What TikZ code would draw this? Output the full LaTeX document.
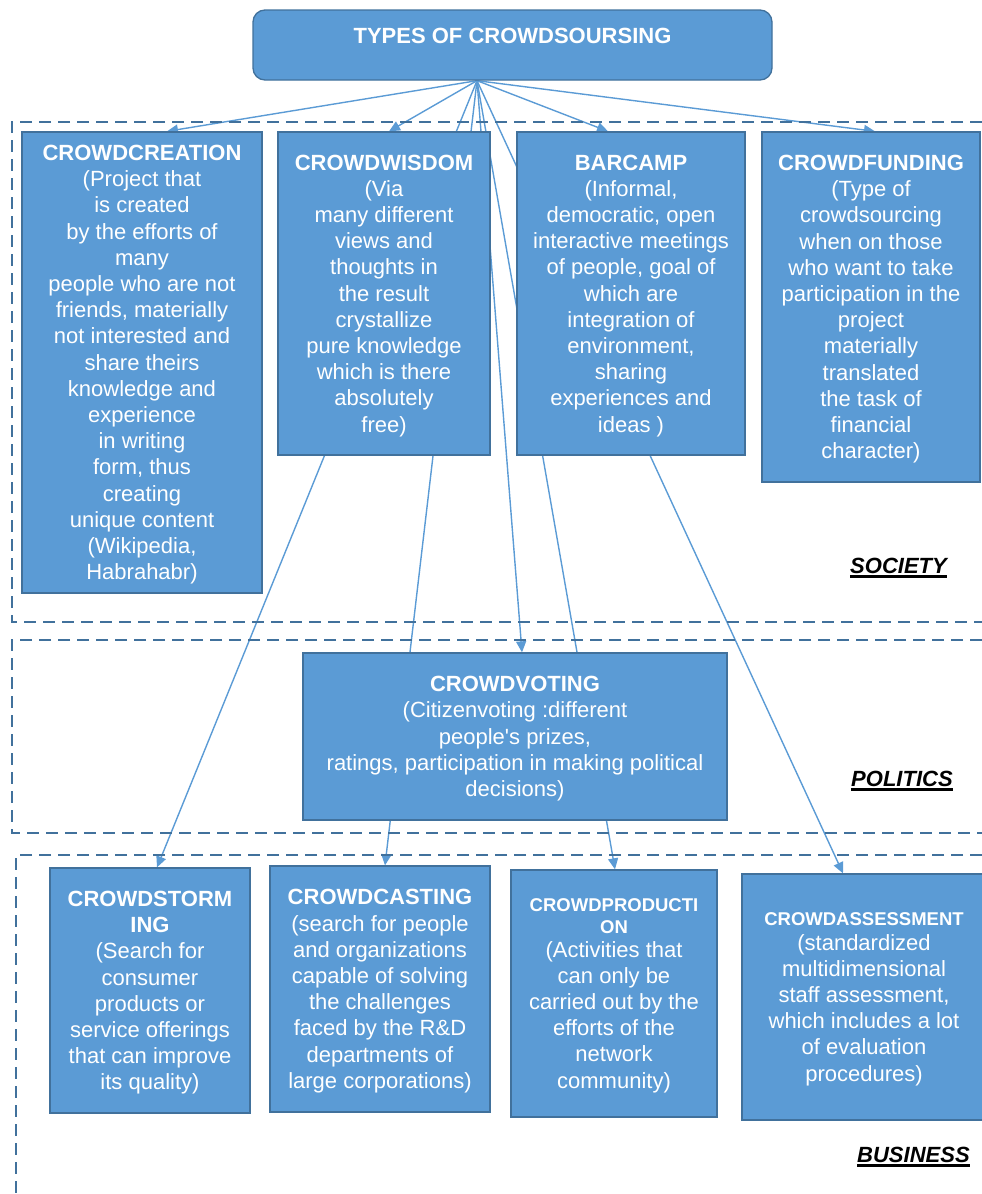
\documentclass[tikz,border=0pt]{standalone}
\usepackage{fontspec}
\setmainfont{Liberation Sans}
\usetikzlibrary{arrows.meta,calc}
\definecolor{boxfill}{HTML}{5B9BD5}
\definecolor{boxline}{HTML}{41719C}
\definecolor{conncol}{HTML}{5B9BD5}
\pgfdeclarelayer{background}
\pgfsetlayers{background,main}
\newcommand{\hd}[1]{\textbf{#1}}
\newcommand{\shd}[1]{{\fontsize{18.5}{22}\selectfont\bfseries #1}}
\tikzset{
  box/.style={draw=boxline, line width=1.3pt, fill=boxfill, text=white, align=center,
    inner sep=0pt, text depth=-2.5pt, font=\fontsize{22}{26.2}\selectfont},
  zone/.style={draw=boxline, line width=1.5pt, dash pattern=on 12pt off 7pt},
  conn/.style={draw=conncol, line width=1.4pt, -{Triangle[length=11pt,width=10pt]}},
  sect/.style={font=\fontsize{22}{26}\selectfont\bfseries\itshape, inner sep=0pt, anchor=base west},
  uline/.style={line width=2.2pt, black},
}
\begin{document}
\begin{tikzpicture}[x=1pt,y=-1pt]
\useasboundingbox (0,0) rectangle (982,1194);

% zones
\draw[zone] (982,122) -- (12,122) -- (12,622) -- (982,622);
\draw[zone] (982,640) -- (12,640) -- (12,833) -- (982,833);
\draw[zone] (982,855) -- (16,855) -- (16,1194);

% title
\node[box, rounded corners=12pt, minimum width=519pt, minimum height=70pt] (title) at (512.5,45) {};
\node[anchor=base, text=white, inner sep=0pt, font=\fontsize{22}{26}\selectfont\bfseries] (titletext)
  at ([yshift=-34pt]title.north) {TYPES OF CROWDSOURSING};
\coordinate (apex) at ([xshift=-35.5pt]title.south);

% society
\node[box, minimum width=240pt, minimum height=461pt] (cc) at (142,362.5)
 {\hd{CROWDCREATION}\\(Project that\\is created\\by the efforts of\\many\\people who are not\\friends, materially\\not interested and\\share theirs\\knowledge and\\experience\\in writing\\form, thus\\creating\\unique content\\(Wikipedia,\\Habrahabr)};
\node[box, minimum width=212pt, minimum height=323pt] (cw) at (384,293.5)
 {\hd{CROWDWISDOM}\\(Via\\many different\\views and\\thoughts in\\the result\\crystallize\\pure knowledge\\which is there\\absolutely\\free)};
\node[box, minimum width=228pt, minimum height=323pt] (bc) at (631,293.5)
 {\hd{BARCAMP}\\(Informal,\\democratic, open\\interactive meetings\\of people, goal of\\which are\\integration of\\environment,\\sharing\\experiences and\\ideas )};
\node[box, minimum width=218pt, minimum height=350pt] (cf) at (871,307)
 {\hd{CROWDFUNDING}\\(Type of\\crowdsourcing\\when on those\\who want to take\\participation in the\\project\\materially\\translated\\the task of\\financial\\character)};

% politics
\node[box, minimum width=424pt, minimum height=167pt] (cv) at (515,736.5)
 {\hd{CROWDVOTING}\\(Citizenvoting :different\\people\textquotesingle s prizes,\\ratings, participation in making political\\decisions)};

% business
\node[box, minimum width=200pt, minimum height=245pt] (cs) at (150,990.5)
 {\hd{CROWDSTORM}\\\hd{ING}\\(Search for\\consumer\\products or\\service offerings\\that can improve\\its quality)};
\node[box, minimum width=220pt, minimum height=246pt] (ccast) at (380,989)
 {\hd{CROWDCASTING}\\(search for people\\and organizations\\capable of solving\\the challenges\\faced by the R\&D\\departments of\\large corporations)};
\node[box, minimum width=206pt, minimum height=247pt] (cp) at (614,993.5)
 {\shd{CROWDPRODUCTI}\\[-4pt]\shd{ON}\\[-3pt](Activities that\\can only be\\carried out by the\\efforts of the\\network\\community)};
\node[box, minimum width=244pt, minimum height=246pt] (ca) at (864,997)
 {\shd{CROWDASSESSMENT}\\[-2pt](standardized\\multidimensional\\staff assessment,\\which includes a lot\\of evaluation\\procedures)};

% section labels
\node[sect] (soc) at (850,573) {SOCIETY};
\draw[uline] ([yshift=-3.5pt]soc.base west) -- ([yshift=-3.5pt]soc.base east);
\node[sect] (pol) at (851,786) {POLITICS};
\draw[uline] ([yshift=-3.5pt]pol.base west) -- ([yshift=-3.5pt]pol.base east);
\node[sect] (bus) at (857,1162) {BUSINESS};
\draw[uline] ([yshift=-3.5pt]bus.base west) -- ([yshift=-3.5pt]bus.base east);

% connectors
\begin{pgfonlayer}{background}
\draw[conn] (apex) -- ([xshift=25pt]cc.north);
\draw[conn] (apex) -- ([xshift=5pt]cw.north);
\draw[conn] (apex) -- ([xshift=-23pt]bc.north);
\draw[conn] (apex) -- ([xshift=4pt]cf.north);
\draw[conn] (apex) -- ([xshift=7pt]cv.north);
\draw[conn] (apex) -- ([xshift=7pt]cs.north);
\draw[conn] (apex) -- ([xshift=5pt]ccast.north);
\draw[conn] (apex) -- ([xshift=1pt]cp.north);
\draw[conn] (apex) -- ([xshift=-21pt]ca.north);
\end{pgfonlayer}
\end{tikzpicture}
\end{document}
